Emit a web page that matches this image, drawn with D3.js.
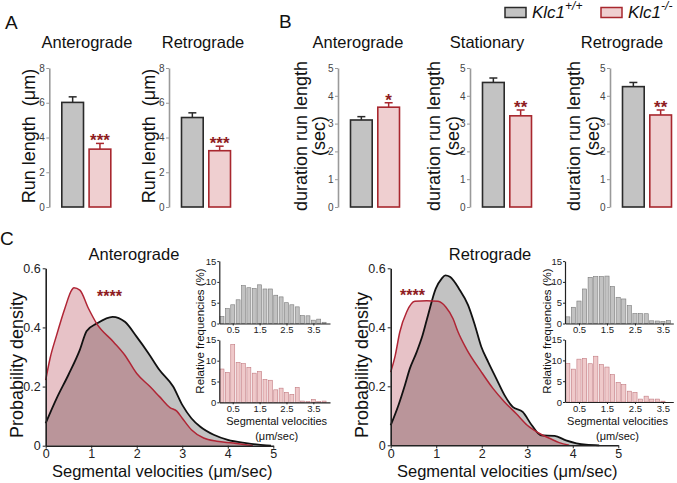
<!DOCTYPE html>
<html><head><meta charset="utf-8">
<script src="https://cdn.jsdelivr.net/npm/d3@7"></script>
<style>
body{margin:0;background:#fff}
svg{display:block}
text{font-family:"Liberation Sans",Arial,Helvetica,sans-serif}
</style>
</head><body>
<svg id="chart" width="677" height="483"></svg>
<script>
// ---------------- DATA ----------------
const groups = ["Klc1+/+", "Klc1-/-"];
// Panel A: run length (µm), mean and SEM
const runLengthAntero = [6.02, 3.33];
const runLengthAnteroErr = [0.32, 0.33];
const runLengthRetro = [5.15, 3.24];
const runLengthRetroErr = [0.27, 0.26];
const runLengthTicks = [0, 2, 4, 6, 8];
// Panel B: duration run length (sec)
const durAntero = [3.13, 3.59];
const durAnteroErr = [0.12, 0.16];
const durStationary = [4.48, 3.28];
const durStationaryErr = [0.16, 0.21];
const durRetro = [4.33, 3.31];
const durRetroErr = [0.15, 0.18];
const durTicks = [0, 1, 2, 3, 4, 5];
// Panel C: probability density curves [velocity, density]
const densAnteroWT = [[0,0.076],[0.24,0.16],[0.5,0.24],[0.75,0.324],[0.9,0.388],[1.12,0.413],[1.47,0.436],[1.74,0.419],[2.0,0.368],[2.26,0.312],[2.5,0.256],[2.8,0.2],[3.0,0.138],[3.2,0.093],[3.39,0.065],[3.69,0.037],[4.0,0.02],[4.4,0.009],[4.85,0.001],[4.95,0]];
const densAnteroKO = [[0,0.222],[0.095,0.295],[0.24,0.374],[0.42,0.464],[0.57,0.526],[0.62,0.534],[0.75,0.526],[0.94,0.464],[1.12,0.413],[1.49,0.351],[1.74,0.306],[2.0,0.244],[2.29,0.2],[2.5,0.166],[2.73,0.129],[2.88,0.117],[3.0,0.093],[3.2,0.054],[3.47,0.026],[3.76,0.015],[4.12,0.009],[4.4,0.003],[4.55,0]];
const densRetroWT = [[0,0.068],[0.17,0.136],[0.31,0.203],[0.42,0.26],[0.57,0.316],[0.7,0.373],[0.82,0.441],[0.99,0.531],[1.12,0.565],[1.2,0.576],[1.3,0.571],[1.5,0.531],[1.7,0.475],[1.85,0.407],[1.99,0.334],[2.14,0.283],[2.32,0.226],[2.5,0.17],[2.68,0.13],[2.9,0.113],[3.1,0.068],[3.3,0.034],[3.6,0.032],[3.85,0.017],[4.29,0.002],[4.58,0]];
const densRetroKO = [[0,0.248],[0.1,0.305],[0.2,0.384],[0.35,0.452],[0.53,0.488],[0.79,0.49],[1.04,0.488],[1.21,0.469],[1.37,0.429],[1.48,0.384],[1.66,0.328],[1.99,0.249],[2.25,0.192],[2.5,0.147],[2.76,0.107],[3.0,0.068],[3.27,0.04],[3.5,0.023],[3.7,0.009],[3.92,0]];
const densXTicks = [0, 1, 2, 3, 4, 5];
const densYTicks = [0, 0.2, 0.4, 0.6];
// Insets: relative frequencies (%) in 0.2 µm/sec bins
const binWidth = 0.2;
const histAnteroWT = [1.7,3.6,4.5,5.7,9.1,8.6,8.4,9.3,8.3,8.3,6.8,6.4,5.0,4.5,4.0,1.9,1.85,0.8,1.05,0.3];
const histAnteroKO = [8.0,7.2,13.9,9.6,9.3,8.4,7.0,7.4,5.5,5.3,3.0,3.4,2.4,1.9,3.6,0.3,0.15,0.7,0.15,0.3];
const histRetroWT = [1.6,3.9,5.4,8.3,11.1,11.3,11.3,11.4,8.9,6.3,5.9,4.3,2.4,2.4,2.35,0.65,0.6,0.5,0.7];
const histRetroKO = [9.3,7.9,10.3,10.5,9.2,11.0,9.0,8.4,6.6,4.7,4.2,2.6,2.3,0.7,1.4,0.7,0.7,0.2];
const histXTicks = [0.5, 1.5, 2.5, 3.5];
const histYTicks = [0, 5, 10, 15];

// ---------------- STYLE ----------------
const GRAY_FILL = "#c3c3c3", GRAY_STROKE = "#2a2a2a";
const PINK_FILL = "#efcfd0", PINK_STROKE = "#a8272e";
const STAR = "#8e1c22";
const svg = d3.select("#chart");

// panel letters
[["A",5,29],["B",279,28],["C",0,245]].forEach(([t,x,y]) =>
  svg.append("text").attr("x",x).attr("y",y).attr("font-size",19).attr("fill","#111").text(t));

// legend
const leg = svg.append("g");
[[505, GRAY_FILL, GRAY_STROKE, "+/+"], [601, PINK_FILL, PINK_STROKE, "-/-"]].forEach(([x, f, s, sup]) => {
  leg.append("rect").attr("x", x).attr("y", 7.5).attr("width", 21).attr("height", 10)
    .attr("fill", f).attr("stroke", s).attr("stroke-width", 1.5);
  const t = leg.append("text").attr("x", x + 27).attr("y", 18).attr("font-size", 17)
    .attr("font-style", "italic").attr("fill", "#111").text("Klc1");
  t.append("tspan").attr("dy", -8).attr("font-size", 12).text(sup);
});

// ---------------- BAR CHARTS ----------------
function barChart(o) {
  const g = svg.append("g");
  const y = d3.scaleLinear().domain([0, o.yMax]).range([207, 68]);
  const x = d3.scaleBand().domain(groups).range([o.axisX + 12.5, o.axisX + 61.5])
    .paddingInner(0.205).paddingOuter(0);
  const ax = g.append("g").attr("transform", `translate(${o.axisX},0)`)
    .call(d3.axisLeft(y).tickValues(o.ticks).tickFormat(d3.format("d")).tickSize(3).tickSizeOuter(0).tickPadding(1.5));
  ax.select(".domain").attr("stroke", "#9a9a9a").attr("stroke-width", 1.6);
  ax.selectAll(".tick line").attr("stroke", "#9a9a9a");
  ax.selectAll(".tick text").attr("font-size", 10).attr("fill", "#444")
    .attr("font-family", "Liberation Sans, Arial, sans-serif");
  groups.forEach((k, i) => {
    const fill = i ? PINK_FILL : GRAY_FILL, stroke = i ? PINK_STROKE : GRAY_STROKE;
    const xc = x(k) + x.bandwidth() / 2;
    const top = y(o.vals[i]), et = y(o.vals[i] + o.errs[i]);
    g.append("line").attr("x1", xc).attr("x2", xc).attr("y1", top).attr("y2", et)
      .attr("stroke", stroke).attr("stroke-width", 1.5);
    g.append("line").attr("x1", xc - 4).attr("x2", xc + 4).attr("y1", et).attr("y2", et)
      .attr("stroke", stroke).attr("stroke-width", 1.5);
    g.append("rect").attr("x", x(k)).attr("y", top).attr("width", x.bandwidth())
      .attr("height", y(0) - top).attr("fill", fill).attr("stroke", stroke).attr("stroke-width", 1.6);
    if (i === 1 && o.stars) {
      g.append("text").attr("x", xc).attr("y", et + 3).attr("text-anchor", "middle")
        .attr("font-size", 17).attr("font-weight", "bold").attr("fill", STAR).text(o.stars);
    }
  });
  g.append("text").attr("x", o.titleX).attr("y", 48).attr("text-anchor", "middle")
    .attr("font-size", 16.5).attr("fill", "#111").text(o.title);
  o.ylab.forEach((line, j) => {
    g.append("text").attr("transform", `translate(${o.axisX - o.ylabOff[j]},136) rotate(-90)`)
      .attr("text-anchor", "middle").attr("font-size", 18).attr("fill", "#111").text(line);
  });
}

barChart({axisX: 49.3, yMax: 8, ticks: runLengthTicks, vals: runLengthAntero, errs: runLengthAnteroErr,
  stars: "***", title: "Anterograde", titleX: 87, ylab: ["Run length\u00a0 (\u03bcm)"], ylabOff: [14]});
barChart({axisX: 169, yMax: 8, ticks: runLengthTicks, vals: runLengthRetro, errs: runLengthRetroErr,
  stars: "***", title: "Retrograde", titleX: 203, ylab: ["Run length\u00a0 (\u03bcm)"], ylabOff: [14]});
barChart({axisX: 338, yMax: 5, ticks: durTicks, vals: durAntero, errs: durAnteroErr,
  stars: "*", title: "Anterograde", titleX: 358, ylab: ["duration run length", "(sec)"], ylabOff: [31, 13]});
barChart({axisX: 470, yMax: 5, ticks: durTicks, vals: durStationary, errs: durStationaryErr,
  stars: "**", title: "Stationary", titleX: 487, ylab: ["duration run length", "(sec)"], ylabOff: [30, 11.5]});
barChart({axisX: 610, yMax: 5, ticks: durTicks, vals: durRetro, errs: durRetroErr,
  stars: "**", title: "Retrograde", titleX: 622, ylab: ["duration run length", "(sec)"], ylabOff: [30, 11.5]});

// ---------------- DENSITY PLOTS ----------------
function densityPlot(o) {
  const g = svg.append("g");
  const x = d3.scaleLinear().domain([0, 5]).range([o.x0, o.x0 + 227.6]);
  const y = d3.scaleLinear().domain([0, 0.6]).range([o.y0, 268.3]);
  const area = d3.area().x(d => x(d[0])).y0(y(0)).y1(d => y(d[1])).curve(d3.curveMonotoneX);
  const line = d3.line().x(d => x(d[0])).y(d => y(d[1])).curve(d3.curveMonotoneX);
  g.append("path").datum(o.wt).attr("d", area).attr("fill", "#c2c2c2");
  g.append("path").datum(o.ko).attr("d", area).attr("fill", "#a81e30").attr("fill-opacity", 0.27);
  g.append("path").datum(o.wt).attr("d", line).attr("fill", "none").attr("stroke", "#111").attr("stroke-width", 1.8);
  g.append("path").datum(o.ko).attr("d", line).attr("fill", "none").attr("stroke", "#b02535").attr("stroke-width", 1.5);
  const ax = g.append("g").attr("transform", `translate(0,${o.y0})`)
    .call(d3.axisBottom(x).tickValues(densXTicks).tickFormat(d3.format("d")).tickSize(3).tickSizeOuter(0).tickPadding(0.5));
  const ay = g.append("g").attr("transform", `translate(${o.x0},0)`)
    .call(d3.axisLeft(y).tickValues(densYTicks).tickFormat(d => d === 0 ? "0" : d3.format(".1f")(d)).tickSize(3).tickSizeOuter(0).tickPadding(2));
  [ax, ay].forEach(a => {
    a.select(".domain").attr("stroke", "#222").attr("stroke-width", 1.6);
    a.selectAll(".tick line").attr("stroke", "#222");
    a.selectAll(".tick text").attr("font-size", 12.5).attr("fill", "#222")
      .attr("font-family", "Liberation Sans, Arial, sans-serif");
  });
  g.append("text").attr("x", o.titleX).attr("y", 260).attr("text-anchor", "middle")
    .attr("font-size", 16.5).attr("fill", "#111").text(o.title);
  g.append("text").attr("x", x(2.56)).attr("y", 476.5).attr("text-anchor", "middle")
    .attr("font-size", 16.5).attr("fill", "#111").text("Segmental velocities (\u03bcm/sec)");
  g.append("text").attr("transform", `translate(${o.x0 - 23},365) rotate(-90)`)
    .attr("text-anchor", "middle").attr("font-size", 18).attr("fill", "#111").text("Probability density");
  g.append("text").attr("x", x(o.starPos[0])).attr("y", y(o.starPos[1])).attr("text-anchor", "middle")
    .attr("font-size", 16).attr("font-weight", "bold").attr("fill", STAR).text("****");
}

densityPlot({x0: 45.7, y0: 445.7, wt: densAnteroWT, ko: densAnteroKO, title: "Anterograde", titleX: 134, starPos: [1.4, 0.486]});
densityPlot({x0: 390.7, y0: 445.3, wt: densRetroWT, ko: densRetroKO, title: "Retrograde", titleX: 490, starPos: [0.48, 0.488]});

// ---------------- INSET HISTOGRAMS ----------------
function inset(o) {
  const g = svg.append("g");
  const x = d3.scaleLinear().domain([0, o.xMax]).range([o.x0, o.x1]);
  const y = d3.scaleLinear().domain([0, 15]).range([o.yb, o.yb - 62.4]);
  g.selectAll("rect").data(o.vals).join("rect")
    .attr("x", (d, i) => x(i * binWidth) + 0.7)
    .attr("width", (d, i) => x((i + 1) * binWidth) - x(i * binWidth) - 1.4)
    .attr("y", d => y(d)).attr("height", d => y(0) - y(d))
    .attr("fill", o.fill).attr("stroke", o.stroke).attr("stroke-width", 0.6);
  const ax = g.append("g").attr("transform", `translate(0,${o.yb})`)
    .call(d3.axisBottom(x).tickValues(histXTicks).tickFormat(d3.format(".1f")).tickSize(2).tickSizeOuter(0).tickPadding(1));
  const ay = g.append("g").attr("transform", `translate(${o.x0},0)`)
    .call(d3.axisLeft(y).tickValues(histYTicks).tickSize(2).tickSizeOuter(0).tickPadding(1));
  [ax, ay].forEach(a => {
    a.select(".domain").attr("stroke", "#222").attr("stroke-width", 1.2);
    a.selectAll(".tick line").attr("stroke", "#222");
    a.selectAll(".tick text").attr("font-size", 9.5).attr("fill", "#222")
      .attr("font-family", "Liberation Sans, Arial, sans-serif");
  });
}
function insetLabels(x0, x1, ylabX) {
  const cx = (x0 + x1) / 2 + 2;
  svg.append("text").attr("x", cx).attr("y", 425).attr("text-anchor", "middle")
    .attr("font-size", 11).attr("fill", "#111").text("Segmental velocities");
  svg.append("text").attr("x", cx).attr("y", 440).attr("text-anchor", "middle")
    .attr("font-size", 11).attr("fill", "#111").text("(\u03bcm/sec)");
  svg.append("text").attr("transform", `translate(${ylabX},331) rotate(-90)`)
    .attr("text-anchor", "middle").attr("font-size", 11.5).attr("fill", "#111").text("Relative frequencies (%)");
}

inset({x0: 219.3, x1: 330, xMax: 4.12, yb: 323.5, vals: histAnteroWT, fill: "#c2c2c2", stroke: "#7a7a7a"});
inset({x0: 219.3, x1: 330, xMax: 4.12, yb: 402.3, vals: histAnteroKO, fill: "#efc9ca", stroke: "#c27a80"});
insetLabels(219.3, 330, 204);
inset({x0: 565, x1: 673.3, xMax: 3.87, yb: 323.5, vals: histRetroWT, fill: "#c2c2c2", stroke: "#7a7a7a"});
inset({x0: 565, x1: 673.3, xMax: 3.87, yb: 402, vals: histRetroKO, fill: "#efc9ca", stroke: "#c27a80"});
insetLabels(565, 666, 551);
</script>
</body></html>
